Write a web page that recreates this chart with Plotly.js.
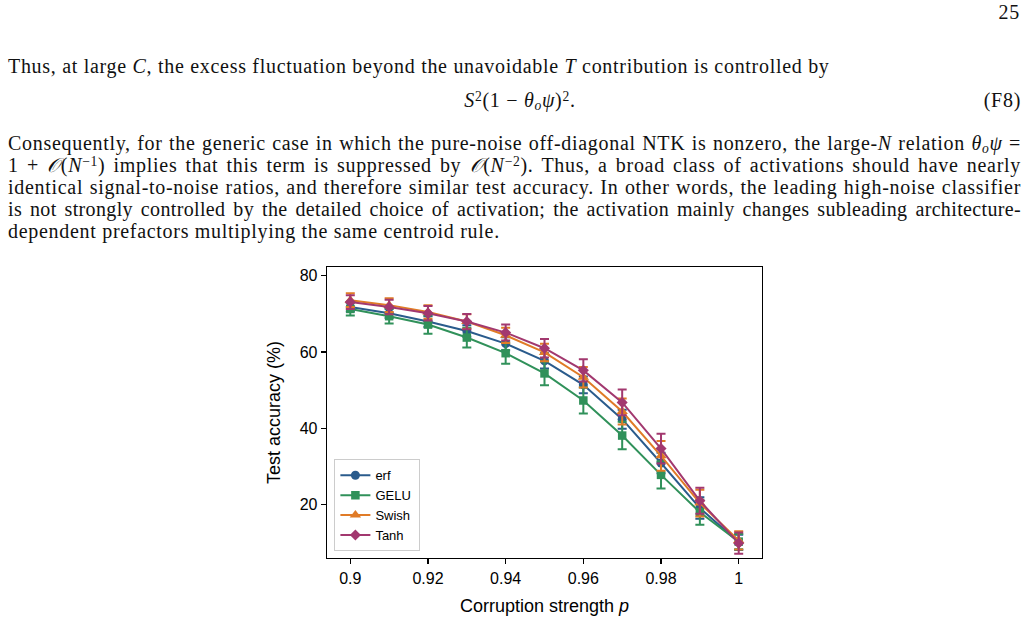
<!DOCTYPE html>
<html>
<head>
<meta charset="utf-8">
<script src="https://cdn.plot.ly/plotly-3.0.1.min.js"></script>
<style>
  html, body { margin: 0; padding: 0; background: #fff; }
  body { width: 1028px; height: 623px; overflow: hidden; position: relative;
         font-family: "Liberation Serif", "DejaVu Serif", serif; font-size: 20px; color: #111;
         letter-spacing: 0.7px; }
  .ln { position: absolute; left: 8px; width: 1013px; line-height: 22px; white-space: nowrap; }
  .just { white-space: normal; text-align: justify; text-align-last: justify; }
  i { font-style: italic; }
  sub, sup { font-size: 68%; line-height: 0; }
  sub { vertical-align: -0.2em; }
  sup { vertical-align: 0.45em; }
  #pg { position: absolute; right: 8px; top: 1px; line-height: 22px; }
  #eq { position: absolute; left: 0; width: 1040px; top: 89px; text-align: center; line-height: 22px; }
  #eqn { position: absolute; right: 7px; top: 89px; line-height: 22px; }
  #fig { position: absolute; left: 250px; top: 255px; width: 530px; height: 366px; letter-spacing: 0; }
  .cal { font-family: "DejaVu Serif", serif; font-style: italic; }
</style>
</head>
<body>
<div id="pg">25</div>
<div class="ln" style="top:55px;">Thus, at large <i>C</i>, the excess fluctuation beyond the unavoidable <i>T</i> contribution is controlled by</div>
<div id="eq"><i>S</i><sup>2</sup>(1 − <i>θ</i><sub><i>o</i></sub><i>ψ</i>)<sup>2</sup>.</div>
<div id="eqn">(F8)</div>
<div class="ln just" style="top:132px;">Consequently, for the generic case in which the pure-noise off-diagonal NTK is nonzero, the large-<i>N</i> relation <i>θ</i><sub><i>o</i></sub><i>ψ</i> =</div>
<div class="ln just" style="top:154px;">1 + <span class="cal">𝒪</span>(<i>N</i><sup>−1</sup>) implies that this term is suppressed by <span class="cal">𝒪</span>(<i>N</i><sup>−2</sup>). Thus, a broad class of activations should have nearly</div>
<div class="ln just" style="top:176px;">identical signal-to-noise ratios, and therefore similar test accuracy. In other words, the leading high-noise classifier</div>
<div class="ln just" style="top:198px; letter-spacing:0.35px;">is not strongly controlled by the detailed choice of activation; the activation mainly changes subleading architecture-</div>
<div class="ln" style="top:220px;">dependent prefactors multiplying the same centroid rule.</div>
<div id="fig"></div>
<script>
// Corruption strength p and mean test accuracy (%) per activation, with error bars
const p = [0.90, 0.91, 0.92, 0.93, 0.94, 0.95, 0.96, 0.97, 0.98, 0.99, 1.00];

const erfAcc   = [71.8, 70.2, 68.0, 65.5, 62.2, 57.7, 51.4, 42.4, 30.9, 19.1, 10.1];
const erfErr   = [1.2, 1.3, 1.4, 1.5, 1.7, 2.0, 2.2, 2.5, 2.7, 2.8, 2.0];

const geluAcc  = [71.3, 69.4, 67.2, 63.8, 59.7, 54.4, 47.3, 38.1, 27.8, 18.0, 10.3];
const geluErr  = [1.7, 1.9, 2.4, 2.6, 2.8, 3.1, 3.4, 3.6, 3.6, 3.3, 2.0];

const swishAcc = [73.6, 72.3, 70.5, 68.0, 64.4, 59.9, 53.4, 44.4, 32.8, 20.4, 10.6];
const swishErr = [1.8, 1.8, 1.8, 1.9, 2.0, 2.3, 2.7, 3.4, 3.9, 3.5, 2.4];

const tanhAcc  = [73.1, 71.8, 70.2, 68.0, 65.1, 61.0, 55.2, 46.8, 34.7, 21.0, 9.9];
const tanhErr  = [1.8, 1.9, 1.9, 2.0, 2.1, 2.4, 2.9, 3.4, 3.9, 3.4, 2.8];

const seriesNames = ['erf', 'GELU', 'Swish', 'Tanh'];
const xTickVals = [0.90, 0.92, 0.94, 0.96, 0.98, 1.00];
const xTickText = ['0.9', '0.92', '0.94', '0.96', '0.98', '1'];
const yTickVals = [20, 40, 60, 80];

const styles = [
  { color: '#2a5b8c', symbol: 'circle', size: 9 },
  { color: '#30915a', symbol: 'square', size: 8.5 },
  { color: '#e07b27', symbol: 'triangle-up', size: 10 },
  { color: '#a2386f', symbol: 'diamond', size: 8.5 }
];
const values = [erfAcc, geluAcc, swishAcc, tanhAcc];
const errors = [erfErr, geluErr, swishErr, tanhErr];

const traces = seriesNames.map((name, i) => ({
  type: 'scatter',
  mode: 'lines+markers',
  name: name,
  x: p,
  y: values[i],
  error_y: { type: 'data', array: errors[i], visible: true,
             color: styles[i].color, thickness: 2, width: 4.5 },
  line: { color: styles[i].color, width: 2 },
  marker: { color: styles[i].color, symbol: styles[i].symbol, size: styles[i].size,
            line: { width: 0 } }
}));

const sans = 'Liberation Sans, Arial, sans-serif';
const axisFont = { family: sans, size: 16, color: '#000' };

const layout = {
  width: 530,
  height: 366,
  margin: { l: 77, r: 18, t: 12, b: 63 },
  paper_bgcolor: 'rgba(0,0,0,0)',
  plot_bgcolor: '#fff',
  font: axisFont,
  showlegend: true,
  legend: {
    x: 0.017, y: 0.023, xanchor: 'left', yanchor: 'bottom',
    bgcolor: 'rgba(255,255,255,0.85)', bordercolor: '#cccccc', borderwidth: 1,
    font: { family: sans, size: 13, color: '#000' },
    itemwidth: 30
  },
  xaxis: {
    range: [0.894, 1.006],
    tickvals: xTickVals, ticktext: xTickText,
    ticks: 'outside', ticklen: 5, tickwidth: 1.3, tickcolor: '#000',
    showline: true, linecolor: '#000', linewidth: 1.3, mirror: true,
    showgrid: false, zeroline: false,
    tickfont: axisFont,
    title: { text: 'Corruption strength <i>p</i>', font: { family: sans, size: 18, color: '#000' }, standoff: 14 }
  },
  yaxis: {
    range: [6.0, 82.3],
    tickvals: yTickVals,
    ticks: 'outside', ticklen: 5, tickwidth: 1.3, tickcolor: '#000',
    showline: true, linecolor: '#000', linewidth: 1.3, mirror: true,
    showgrid: false, zeroline: false,
    tickfont: axisFont,
    title: { text: 'Test accuracy (%)', font: { family: sans, size: 18, color: '#000' }, standoff: 13 }
  }
};

Plotly.newPlot('fig', traces, layout, { displayModeBar: false, staticPlot: true });
</script>
</body>
</html>
